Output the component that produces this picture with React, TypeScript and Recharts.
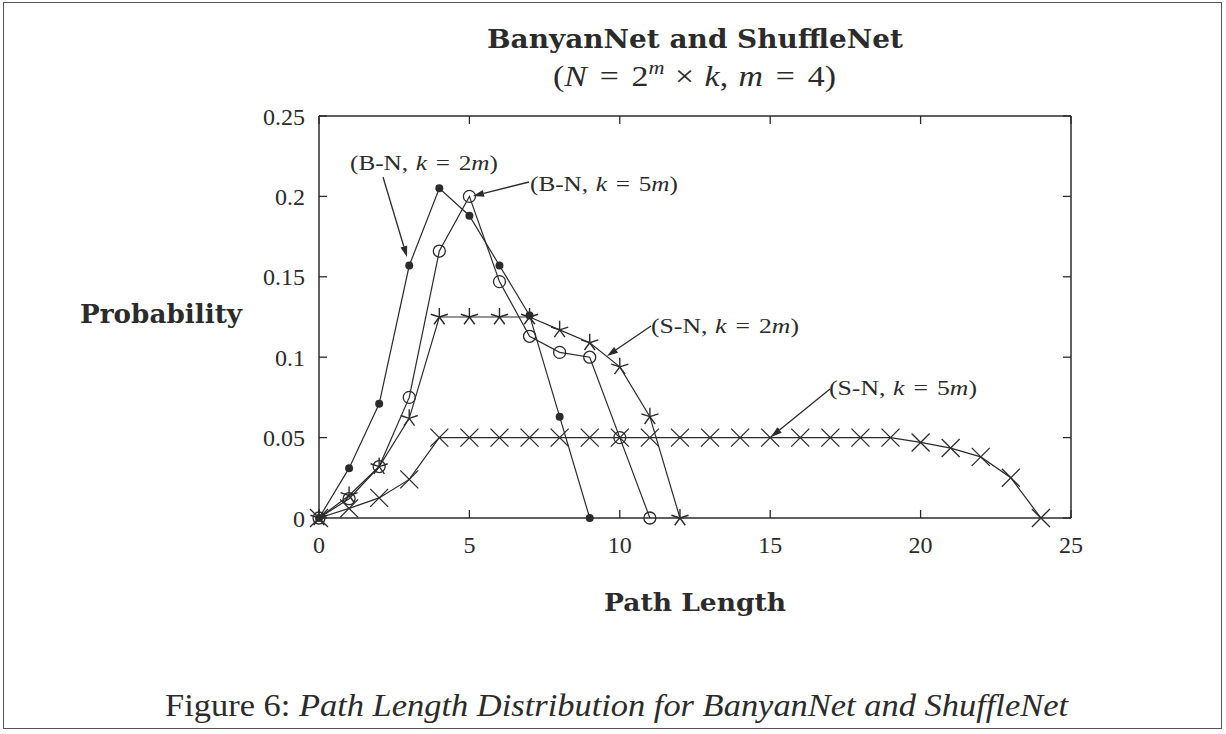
import { LineChart, Line, XAxis, YAxis, ReferenceLine } from "recharts";

// path length 0..24
const pathLength = [
  0, 1, 2, 3, 4, 5, 6, 7, 8, 9, 10, 11, 12, 13, 14, 15, 16, 17, 18, 19, 20, 21, 22, 23, 24,
];
const bnK2m = [0, 0.031, 0.071, 0.157, 0.205, 0.188, 0.157, 0.126, 0.063, 0];
const bnK5m = [0, 0.012, 0.032, 0.075, 0.166, 0.2, 0.147, 0.113, 0.103, 0.1, 0.05, 0];
const snK2m = [0, 0.014, 0.032, 0.062, 0.125, 0.125, 0.125, 0.125, 0.117, 0.109, 0.094, 0.063, 0];
const snK5m = [
  0, 0.006, 0.0125, 0.024, 0.05, 0.05, 0.05, 0.05, 0.05, 0.05, 0.05, 0.05, 0.05, 0.05, 0.05,
  0.05, 0.05, 0.05, 0.05, 0.05, 0.047, 0.0435, 0.038, 0.025, 0,
];
const xTicks = [0, 5, 10, 15, 20, 25];
const yTicks = [0, 0.05, 0.1, 0.15, 0.2, 0.25];

const data = pathLength.map((x, i) => ({
  x,
  bn2: bnK2m[i],
  bn5: bnK5m[i],
  sn2: snK2m[i],
  sn5: snK5m[i],
}));

const INK = "#2b2b2b";
const SERIF = '"Liberation Serif", "DejaVu Serif", serif';
const BOLD_SERIF = '"DejaVu Serif", "Liberation Serif", serif';
// inward tick length on top / right edges, in data units (about 8px)
const TICK_X = 0.27;
const TICK_Y = 0.005;

function FilledDot(p: any) {
  if (p.cy == null || p.value == null) return <g key={p.key} />;
  return <circle key={p.key} cx={p.cx} cy={p.cy} r={4} fill={INK} />;
}

function OpenDot(p: any) {
  if (p.cy == null || p.value == null) return <g key={p.key} />;
  return <circle key={p.key} cx={p.cx} cy={p.cy} r={6} fill="none" stroke={INK} strokeWidth={1.3} />;
}

function StarDot(p: any) {
  if (p.cy == null || p.value == null) return <g key={p.key} />;
  const r = 9;
  const arms = [0, 1, 2, 3, 4].map((i) => {
    const a = -Math.PI / 2 + (i * 2 * Math.PI) / 5;
    return `M${p.cx},${p.cy}L${p.cx + r * Math.cos(a)},${p.cy + r * Math.sin(a)}`;
  });
  return <path key={p.key} d={arms.join("")} stroke={INK} strokeWidth={1.4} fill="none" />;
}

function CrossDot(p: any) {
  if (p.cy == null || p.value == null) return <g key={p.key} />;
  const r = 9;
  const d = `M${p.cx - r},${p.cy - r}L${p.cx + r},${p.cy + r}M${p.cx - r},${p.cy + r}L${p.cx + r},${p.cy - r}`;
  return <path key={p.key} d={d} stroke={INK} strokeWidth={1.3} fill="none" />;
}

function Arrow({ x1, y1, x2, y2 }: { x1: number; y1: number; x2: number; y2: number }) {
  const a = Math.atan2(y2 - y1, x2 - x1);
  const len = 11;
  const w = 3.5;
  const bx = x2 - len * Math.cos(a);
  const by = y2 - len * Math.sin(a);
  const px = -Math.sin(a) * w;
  const py = Math.cos(a) * w;
  return (
    <g>
      <line x1={x1} y1={y1} x2={bx} y2={by} stroke={INK} strokeWidth={1.3} />
      <polygon points={`${x2},${y2} ${bx + px},${by + py} ${bx - px},${by - py}`} fill={INK} />
    </g>
  );
}

function SeriesLabel({ x, y, net, k }: { x: number; y: number; net: string; k: string }) {
  return (
    <text
      x={x}
      y={y}
      fontSize={20}
      fill={INK}
      fontFamily={SERIF}
      textLength={148}
      lengthAdjust="spacingAndGlyphs"
    >
      ({net},<tspan dx={6} fontStyle="italic">k</tspan>
      <tspan dx={7}>=</tspan>
      <tspan dx={7}>{k}</tspan>
      <tspan fontStyle="italic">m</tspan>)
    </text>
  );
}

export default function App() {
  return (
    <div
      style={{
        position: "fixed",
        left: 0,
        top: 0,
        width: 1226,
        height: 734,
        background: "#fff",
        fontFamily: SERIF,
      }}
    >
      <div
        style={{
          position: "absolute",
          left: 3,
          top: 2,
          width: 1217,
          height: 725,
          border: "1.5px solid #555",
        }}
      />
      <div style={{ position: "absolute", left: 0, top: 0 }}>
        <LineChart
          width={1226}
          height={734}
          data={data}
          margin={{ top: 116, right: 155, left: 259, bottom: 176 }}
        >
          <XAxis
            type="number"
            dataKey="x"
            domain={[0, 25]}
            ticks={xTicks}
            interval={0}
            height={40}
            tickSize={-8}
            tickMargin={26}
            axisLine={{ stroke: INK, strokeWidth: 1.5 }}
            tickLine={{ stroke: INK, strokeWidth: 1.3 }}
            tick={{ fontSize: 24, fill: INK, fontFamily: SERIF }}
          />
          <YAxis
            type="number"
            domain={[0, 0.25]}
            ticks={yTicks}
            interval={0}
            width={60}
            tickSize={-8}
            tickMargin={22}
            tickFormatter={(v: number) => String(v)}
            axisLine={{ stroke: INK, strokeWidth: 1.5 }}
            tickLine={{ stroke: INK, strokeWidth: 1.3 }}
            tick={{ fontSize: 24, fill: INK, fontFamily: SERIF }}
          />
          {/* top and right edges of the frame, with inward ticks */}
          <ReferenceLine y={0.25} stroke={INK} strokeWidth={1.5} />
          <ReferenceLine x={25} stroke={INK} strokeWidth={1.5} />
          {xTicks.map((t) => (
            <ReferenceLine
              key={`tx${t}`}
              segment={[
                { x: t, y: 0.25 },
                { x: t, y: 0.25 - TICK_Y },
              ]}
              stroke={INK}
              strokeWidth={1.3}
            />
          ))}
          {yTicks.map((t) => (
            <ReferenceLine
              key={`ty${t}`}
              segment={[
                { x: 25, y: t },
                { x: 25 - TICK_X, y: t },
              ]}
              stroke={INK}
              strokeWidth={1.3}
            />
          ))}
          <Line
            type="linear"
            dataKey="sn5"
            stroke={INK}
            strokeWidth={1.2}
            dot={(p: any) => <CrossDot {...p} />}
            isAnimationActive={false}
          />
          <Line
            type="linear"
            dataKey="sn2"
            stroke={INK}
            strokeWidth={1.2}
            dot={(p: any) => <StarDot {...p} />}
            isAnimationActive={false}
          />
          <Line
            type="linear"
            dataKey="bn5"
            stroke={INK}
            strokeWidth={1.2}
            dot={(p: any) => <OpenDot {...p} />}
            isAnimationActive={false}
          />
          <Line
            type="linear"
            dataKey="bn2"
            stroke={INK}
            strokeWidth={1.2}
            dot={(p: any) => <FilledDot {...p} />}
            isAnimationActive={false}
          />
        </LineChart>
      </div>
      <svg
        width={1226}
        height={734}
        style={{ position: "absolute", left: 0, top: 0, pointerEvents: "none" }}
      >
        <text
          x={487}
          y={48}
          fontSize={26}
          fontWeight="bold"
          fill={INK}
          fontFamily={BOLD_SERIF}
          textLength={416}
          lengthAdjust="spacingAndGlyphs"
        >
          BanyanNet and ShuffleNet
        </text>
        <text
          x={553}
          y={86}
          fontSize={29}
          fill={INK}
          fontFamily={SERIF}
          textLength={283}
          lengthAdjust="spacingAndGlyphs"
        >
          (<tspan fontStyle="italic">N</tspan>
          <tspan dx={11}>=</tspan>
          <tspan dx={11}>2</tspan>
          <tspan dy={-12} fontSize={19} fontStyle="italic">m</tspan>
          <tspan dy={12} dx={9}>×</tspan>
          <tspan dx={9} fontStyle="italic">k</tspan>,
          <tspan dx={9} fontStyle="italic">m</tspan>
          <tspan dx={11}>=</tspan>
          <tspan dx={11}>4</tspan>)
        </text>
        <text
          x={80}
          y={323}
          fontSize={26}
          fontWeight="bold"
          fill={INK}
          fontFamily={BOLD_SERIF}
          textLength={162}
          lengthAdjust="spacingAndGlyphs"
        >
          Probability
        </text>
        <text
          x={604}
          y={611}
          fontSize={25}
          fontWeight="bold"
          fill={INK}
          fontFamily={BOLD_SERIF}
          textLength={182}
          lengthAdjust="spacingAndGlyphs"
        >
          Path Length
        </text>
        <text
          x={165}
          y={716}
          fontSize={32}
          fill={INK}
          fontFamily={SERIF}
          textLength={903}
          lengthAdjust="spacingAndGlyphs"
        >
          Figure 6: <tspan fontStyle="italic">Path Length Distribution for BanyanNet and ShuffleNet</tspan>
        </text>

        <SeriesLabel x={350} y={170} net="B-N" k="2" />
        <Arrow x1={383} y1={177} x2={407} y2={257} />
        <SeriesLabel x={530} y={191} net="B-N" k="5" />
        <Arrow x1={529} y1={182} x2={473} y2={196} />
        <SeriesLabel x={651} y={333} net="S-N" k="2" />
        <Arrow x1={651} y1={326} x2={607} y2={356} />
        <SeriesLabel x={829} y={395} net="S-N" k="5" />
        <Arrow x1={830} y1={389} x2={771} y2={437} />
      </svg>
    </div>
  );
}
